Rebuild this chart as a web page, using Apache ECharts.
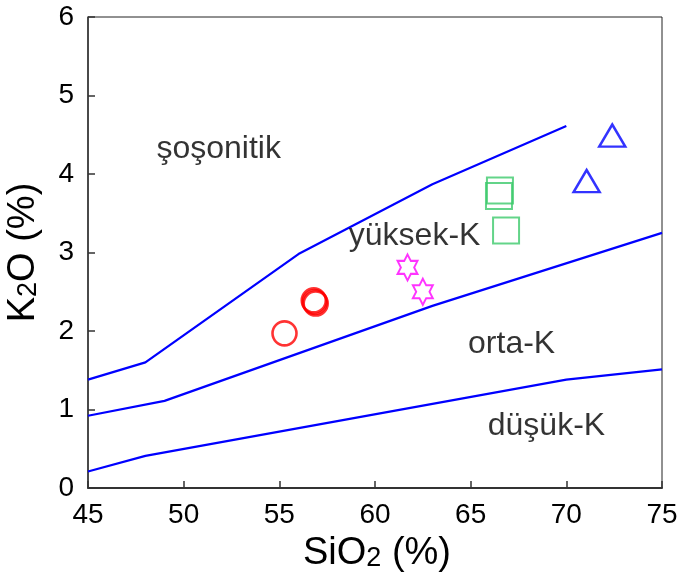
<!DOCTYPE html>
<html>
<head>
<meta charset="utf-8">
<script src="https://cdn.jsdelivr.net/npm/echarts@6/dist/echarts.min.js"></script>
<style>html,body{margin:0;padding:0;background:#fff}#c{width:679px;height:580px}</style>
</head>
<body>
<div id="c"></div>
<script>
// Boundary lines (SiO2, K2O)
var shoshoniticLine = [[45, 1.38], [48, 1.60], [56, 2.98], [63, 3.87], [70, 4.61]];
var highKLine = [[45, 0.92], [49, 1.11], [63, 2.32], [75, 3.25]];
var lowKLine = [[45, 0.21], [48, 0.41], [70, 1.38], [75, 1.51]];

// Samples
var circles = [[55.27, 1.97], [56.8, 2.39], [56.85, 2.37], [56.9, 2.35]];
var stars = [[61.7, 2.81], [62.5, 2.50]];
var squares = [[66.53, 3.79], [66.48, 3.72], [66.85, 3.28]];
var triangles = [[72.4, 4.49], [71.06, 3.91]];

// Field labels
var fieldNames = ['şoşonitik', 'yüksek-K', 'orta-K', 'düşük-K'];
var fieldX = [51.83, 62.07, 67.14, 68.96];
var fieldY = [4.31, 3.21, 1.83, 0.79];

// Axis ticks
var xTicks = [45, 50, 55, 60, 65, 70, 75];
var yTicks = [0, 1, 2, 3, 4, 5, 6];

var FONT = 'Arial, "Liberation Sans", sans-serif';
var hexPath = 'path://M100 0 L128.87 50 L186.6 50 L157.74 100 L186.6 150 L128.87 150 L100 200 L71.13 150 L13.4 150 L42.26 100 L13.4 50 L71.13 50 Z';

function boundary(data) {
  return {
    type: 'line', data: data, symbol: 'none', silent: true,
    lineStyle: { color: '#0000ff', width: 2.2 }, z: 2
  };
}
function marks(data, symbol, size, color, bw) {
  return {
    type: 'scatter', data: data, symbol: symbol, symbolSize: size, symbolKeepAspect: true,
    itemStyle: { color: 'rgba(0,0,0,0)', borderColor: color, borderWidth: bw }, z: 3
  };
}

var labelData = fieldNames.map(function (n, i) { return { value: [fieldX[i], fieldY[i]], name: n }; });

var titleRich = {
  a: { fontSize: 38, fontFamily: FONT, color: '#000' },
  b: { fontSize: 27, fontFamily: FONT, color: '#000', padding: [10, 0, 0, 0] }
};

var chart = echarts.init(document.getElementById('c'), null, { renderer: 'canvas' });
chart.setOption({
  animation: false,
  backgroundColor: '#fff',
  grid: { left: 88, right: 17, top: 17, bottom: 92, show: true, borderColor: '#222', borderWidth: 1,
          containLabel: false, outerBoundsMode: 'none' },
  xAxis: {
    type: 'value', min: xTicks[0], max: xTicks[xTicks.length - 1], interval: 5,
    name: '{a|SiO}{b|2}{a| (%)}', nameLocation: 'middle', nameGap: 47,
    nameTextStyle: { rich: titleRich, padding: [0, 0, 0, 4] },
    axisLine: { lineStyle: { color: '#333', width: 2 } },
    axisTick: { inside: true, length: 7, lineStyle: { color: '#333', width: 1.5 } },
    axisLabel: { fontSize: 28, fontFamily: FONT, color: '#000', margin: 13 },
    splitLine: { show: false }
  },
  yAxis: {
    type: 'value', min: yTicks[0], max: yTicks[yTicks.length - 1], interval: 1,
    name: '{a|K}{b|2}{a|O (%)}', nameLocation: 'middle', nameGap: 45,
    nameTextStyle: { rich: titleRich },
    axisLine: { lineStyle: { color: '#333', width: 1.5 } },
    axisTick: { inside: true, length: 7, lineStyle: { color: '#333', width: 1.5 } },
    axisLabel: { fontSize: 28, fontFamily: FONT, color: '#000', margin: 14 },
    splitLine: { show: false }
  },
  series: [
    boundary(shoshoniticLine),
    boundary(highKLine),
    boundary(lowKLine),
    marks(circles, 'circle', 24, '#ff0000', 2.6),
    marks(stars, hexPath, [23, 26], '#ff00ff', 2),
    marks(squares, 'rect', 26, '#3cc96c', 2),
    marks(triangles, 'triangle', [26, 22], '#0000ff', 2.5),
    {
      type: 'scatter', data: labelData, symbolSize: 0, silent: true, z: 4,
      label: { show: true, position: 'inside', formatter: '{b}', fontSize: 32, fontFamily: FONT, color: '#000',
               textBorderWidth: 0 }
    }
  ]
});
</script>
</body>
</html>
